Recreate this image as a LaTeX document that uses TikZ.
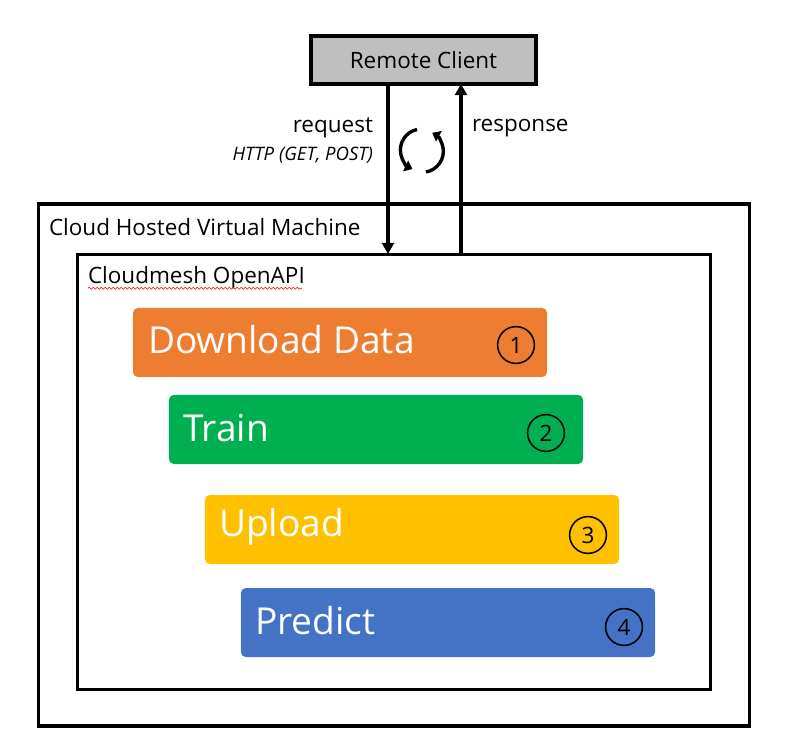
\documentclass[tikz,border=0pt]{standalone}
\usepackage{fontspec}
\setmainfont{Open Sans}
\usetikzlibrary{%
  arrows.meta,%
  positioning,%
  decorations.pathmorphing%
}
\definecolor{clientgray}{HTML}{BFBFBF}
\definecolor{dataorange}{HTML}{ED7D31}
\definecolor{traingreen}{HTML}{00B050}
\definecolor{uploadyellow}{HTML}{FFC000}
\definecolor{predictblue}{HTML}{4472C4}

\begin{document}
\begin{tikzpicture}
  [
  x=0.25mm, y=-0.25mm,
  line width=2.2pt,
  >={Triangle[length=2.8mm,width=3mm]},
  hostbox/.style={rectangle, draw=black, inner sep=0pt, outer sep=0pt, anchor=north west},
  stepbox/.style={rectangle, rounded corners=1.2mm, inner sep=0pt, outer sep=0pt, minimum width=103.5mm, minimum height=17.25mm},
  steptext/.style={text=white, font=\fontsize{26.4}{30}\selectfont, anchor=west, inner sep=0pt, outer sep=0pt},
  stepnum/.style={circle, draw=black, line width=1.1pt, inner sep=0pt, outer sep=0pt, minimum size=9.2mm, font=\fontsize{16}{18}\selectfont},
  plainlabel/.style={font=\fontsize{16}{18}\selectfont, inner sep=0pt, outer sep=0pt},
  arrowline/.style={line width=2.9pt},
  cycleline/.style={line width=2.4pt, -{Triangle[length=1.9mm,width=2.9mm]}},
  ]

\useasboundingbox (0,0) rectangle (789,750);

% boxes
\node[hostbox, minimum width=177.75mm, minimum height=130.5mm] (vm) at (38.5,204) {};
\node[hostbox, minimum width=158.25mm, minimum height=108.75mm] (api) at (77.5,254.5) {};
\node[rectangle, draw=black, fill=clientgray, minimum width=56.25mm, minimum height=12mm, plainlabel] (client) at (423.5,60) {Remote Client};

\node[plainlabel, anchor=west] (vmlabel) at (49,227) {Cloud Hosted Virtual Machine};
\node[plainlabel, anchor=west] (apilabel) at (88,278) {Cloudmesh OpenAPI};
\draw[red, line width=0.4pt, decorate, decoration={snake, amplitude=0.25mm, segment length=1mm}]
  (apilabel.south west) ++(0,-1) -- ++(214,0);

% steps
\node[stepbox, fill=dataorange] (download) at (340,342.5) {};
\node[stepbox, fill=traingreen] (train) at (376,429.5) {};
\node[stepbox, fill=uploadyellow] (upload) at (412,529.5) {};
\node[stepbox, fill=predictblue] (predict) at (448,622.5) {};

\node[steptext] (downloadtext) at (148,340) {Download Data};
\node[steptext] (traintext) at (183,428) {Train};
\node[steptext] (uploadtext) at (219,527) {Upload};
\node[steptext] (predicttext) at (255,621) {Predict};

\node[stepnum] (one) at (516,345) {1};
\node[stepnum] (two) at (546,433) {2};
\node[stepnum] (three) at (588,535) {3};
\node[stepnum] (four) at (624,627) {4};

% arrows
\coordinate (reqin) at (388,254);
\coordinate (respin) at (461,254);
\draw[->, arrowline] (client.south -| reqin) -- (reqin);
\draw[->, arrowline] (respin) -- (client.south -| respin);

\node[plainlabel, anchor=east] (request) at (373,128) {request};
\node[plainlabel, anchor=east, font=\fontsize{13.2}{15}\itshape\selectfont] (http) at (373,155) {HTTP (GET, POST)};
\node[plainlabel, anchor=west] (response) at (472,128) {response};

% cycle icon
\draw[cycleline] (417,129.5) arc[start angle=-102, end angle=-245, radius=21];
\draw[cycleline] (426,172) arc[start angle=80, end angle=-62, radius=21];
\end{tikzpicture}
\end{document}
